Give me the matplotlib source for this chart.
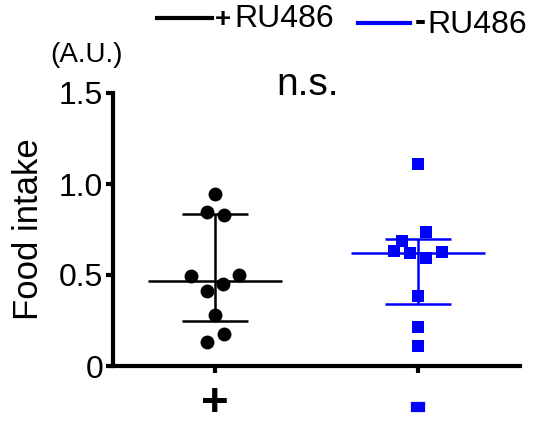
import matplotlib
matplotlib.use("Agg")
import matplotlib.pyplot as plt
from matplotlib.lines import Line2D
import matplotlib.patheffects as pe

plt.rcParams['font.family'] = ['Liberation Sans', 'DejaVu Sans']

# ---- data ----
groups = ['+', '-']
plus_values = [0.945, 0.846, 0.83, 0.495, 0.50, 0.45, 0.41, 0.28, 0.176, 0.13]
minus_values = [1.11, 0.736, 0.687, 0.632, 0.62, 0.593, 0.626, 0.385, 0.214, 0.11]
plus_summary = [0.247, 0.467, 0.835]    # lower, median, upper
minus_summary = [0.34, 0.62, 0.70]
yticks = [0, 0.5, 1.0, 1.5]
ytick_labels = ['0', '0.5', '1.0', '1.5']

# ---- layout (jitter in axis units) ----
plus_jitter = [0, -8, 9, -24, 24, 8, -8, 0, 9, -8]
minus_jitter = [0, 8, -16, -24, -8, 8, 24, 0, 0, 0]
PX = 1 / 203.0

W, H = 548, 425
fig = plt.figure(figsize=(W / 100, H / 100), dpi=100)
ax = fig.add_axes([113 / W, 1 - 366 / H, (520 - 113) / W, (366 - 93) / H])

colors = ['black', '#0000ff']
markers = ['o', 's']
msizes = [10, 8.5]
for i, (vals, jit, summ) in enumerate([(plus_values, plus_jitter, plus_summary),
                                       (minus_values, minus_jitter, minus_summary)]):
    xc = i + 1
    xs = [xc + j * PX for j in jit]
    ax.plot(xs, vals, linestyle='none', marker=markers[i], color=colors[i],
            markersize=msizes[i], markeredgewidth=0, zorder=3)
    lo, med, hi = summ
    ax.hlines(med, xc - 0.33, xc + 0.33, color=colors[i], lw=1.8, zorder=2)
    ax.hlines([lo, hi], xc - 0.163, xc + 0.163, color=colors[i], lw=1.8, zorder=2)
    ax.vlines(xc, lo, hi, color=colors[i], lw=1.8, zorder=2)

ax.set_xlim(0.5, 2.5)
ax.set_ylim(0, 1.5)
ax.set_yticks(yticks)
ax.set_yticklabels(ytick_labels, fontsize=23)
ax.set_xticks([1, 2])
ax.set_xticklabels(['', ''])
for s in ['top', 'right']:
    ax.spines[s].set_visible(False)
for s in ['left', 'bottom']:
    ax.spines[s].set_linewidth(3)
ax.tick_params(axis='both', width=3, length=5, direction='out')
ax.tick_params(axis='y', pad=2)
ax.set_ylabel('Food intake', fontsize=25, labelpad=10)
ax.patch.set_alpha(0)

def fx(x):
    return x / W

def fy(y):
    return 1 - y / H

# group labels under ticks
ax.text(1, -0.14, groups[0], transform=ax.get_xaxis_transform(), fontsize=34,
        fontweight='bold', color='black', ha='center', va='center')
ax.text(2, -0.15, groups[1], transform=ax.get_xaxis_transform(), fontsize=22,
        fontweight='bold', color='#0000ff', ha='center', va='center',
        path_effects=[pe.withStroke(linewidth=4.5, foreground='#0000ff',
                                    joinstyle='miter')])

fig.text(fx(86), fy(55), '(A.U.)', fontsize=20, ha='center', va='center')
fig.text(fx(308), fy(95), 'n.s.', fontsize=28, ha='center', va='baseline')

# legend
fig.add_artist(Line2D([fx(157), fx(212)], [fy(18), fy(18)], color='black', lw=3))
fig.text(fx(215), fy(27), '+', fontsize=20, fontweight='bold', ha='left', va='baseline')
fig.text(fx(234), fy(27), 'RU486', fontsize=23, ha='left', va='baseline')
fig.add_artist(Line2D([fx(358), fx(410)], [fy(23), fy(23)], color='#0000ff', lw=3))
fig.text(fx(415), fy(31), '-', fontsize=24, fontweight='bold', ha='left', va='baseline')
fig.text(fx(427), fy(33), 'RU486', fontsize=23, ha='left', va='baseline')

fig.savefig('out.png', dpi=100)
